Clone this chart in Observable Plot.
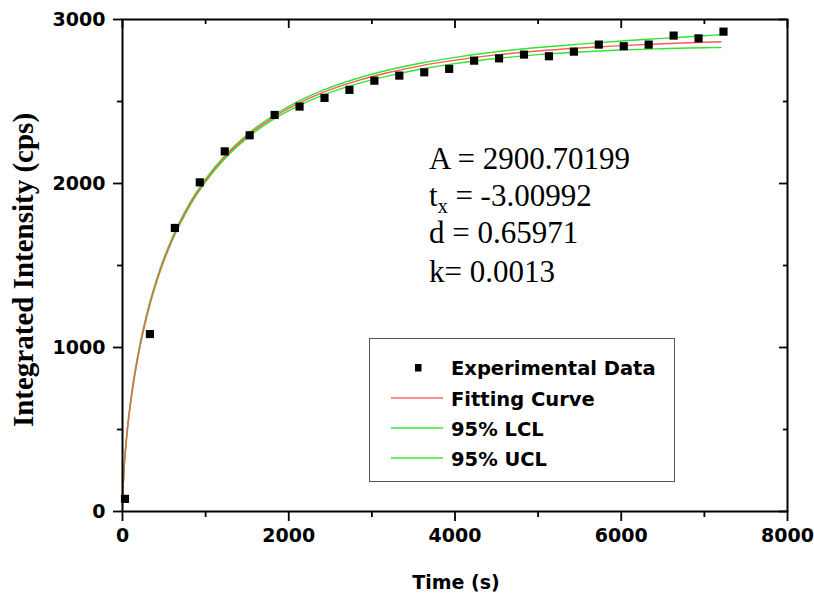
<!DOCTYPE html>
<html>
<head>
<meta charset="utf-8">
<script src="https://cdn.jsdelivr.net/npm/d3@7"></script>
<script src="https://cdn.jsdelivr.net/npm/@observablehq/plot@0.6"></script>
<style>
  html, body { margin: 0; padding: 0; background: white; }
  #chart { position: relative; width: 814px; height: 595px; }
  #legend { position: absolute; left: 369px; top: 338px; width: 306px; height: 144px;
            box-sizing: border-box; border: 1.5px solid #555; background: white; }
</style>
</head>
<body>
<div id="chart"><div id="legend"></div></div>
<script>
// ---- Experimental data (time in s, integrated intensity in cps) ----
const expTime = [30, 330, 630, 930, 1230, 1530, 1830, 2130, 2430, 2730, 3030, 3330, 3630, 3930,
                 4230, 4530, 4830, 5130, 5430, 5730, 6030, 6330, 6630, 6930, 7230];
const expIntensity = [77, 1082, 1729, 2007, 2196, 2294, 2418, 2469, 2522, 2571, 2627, 2658, 2678, 2699,
                      2749, 2763, 2786, 2776, 2804, 2847, 2837, 2847, 2902, 2885, 2926];

// ---- Fitting curve and 95% confidence limits ----
const fitTime = [0, 25, 50, 100, 150, 200, 300, 450, 600, 800, 1000, 1200, 1500, 1800, 2100, 2400,
                 2800, 3200, 3600, 4000, 4500, 5000, 5500, 6000, 6500, 7000, 7200];
const fitValue = [74, 308, 456, 676, 845, 986, 1212, 1468, 1663, 1864, 2019, 2144, 2289, 2399, 2485, 2553,
                  2623, 2677, 2719, 2752, 2784, 2808, 2826, 2841, 2852, 2861, 2864];
const uclValue = [84, 318, 466, 686, 855, 996, 1221, 1477, 1672, 1873, 2028, 2153, 2299, 2410, 2497, 2566,
                  2637, 2692, 2735, 2769, 2803, 2829, 2850, 2869, 2885, 2901, 2907];
const lclValue = [64, 298, 446, 666, 835, 976, 1203, 1459, 1654, 1855, 2010, 2134, 2278, 2386, 2470, 2536,
                  2604, 2656, 2698, 2731, 2762, 2786, 2802, 2814, 2822, 2828, 2829];

// ---- Ticks ----
const xMajorTicks = [0, 2000, 4000, 6000, 8000];
const xMinorTicks = [1000, 3000, 5000, 7000];
const yMajorTicks = [0, 1000, 2000, 3000];
const yMinorTicks = [500, 1500, 2500];

// ---- Texts ----
const xLabel = "Time (s)";
const yLabel = "Integrated Intensity (cps)";
const paramLines = [
  {main: "A = 2900.70199"},
  {main: "t", sub: "x", rest: " = -3.00992"},
  {main: "d = 0.65971"},
  {main: "k= 0.0013"}
];
const legendItems = [
  {label: "Experimental Data", type: "square", color: "black"},
  {label: "Fitting Curve", type: "line", color: "#ff6666"},
  {label: "95% LCL", type: "line", color: "#33ee33"},
  {label: "95% UCL", type: "line", color: "#33ee33"}
];

const RED = "#ff5a5a", GREEN = "#2fe82f";

const W = 814, H = 595, ML = 122, MR = 27, MT = 19, MB = 84;
const plotW = W - ML - MR, plotH = H - MT - MB;

const expData = expTime.map((t, i) => ({t, v: expIntensity[i]}));
const fitData = fitTime.map((t, i) => ({t, v: fitValue[i]}));
const uclData = fitTime.map((t, i) => ({t, v: uclValue[i]}));
const lclData = fitTime.map((t, i) => ({t, v: lclValue[i]}));

const fmt = d3.format("d");
const blank = () => "";

const plot = Plot.plot({
  width: W,
  height: H,
  marginLeft: ML,
  marginRight: MR,
  marginTop: MT,
  marginBottom: MB,
  x: {domain: [0, 8000]},
  y: {domain: [0, 3000]},
  style: {fontFamily: "DejaVu Sans", fontWeight: "bold", fontSize: "19px", color: "black", background: "white", overflow: "visible"},
  marks: [
    Plot.line(lclData, {x: "t", y: "v", stroke: GREEN, strokeWidth: 1.4, curve: "monotone-x"}),
    Plot.line(uclData, {x: "t", y: "v", stroke: GREEN, strokeWidth: 1.4, curve: "monotone-x"}),
    Plot.line(fitData, {x: "t", y: "v", stroke: RED, strokeWidth: 1.4, curve: "monotone-x"}),
    Plot.dot(expData, {x: "t", y: "v", symbol: "square", fill: "black", r: 4.6}),
    // top axis (inward ticks)
    Plot.tickX(xMajorTicks, {x: d => d, stroke: "black", strokeWidth: 1.8, insetBottom: plotH - 9}),
    Plot.tickX(xMinorTicks, {x: d => d, stroke: "black", strokeWidth: 1.8, insetBottom: plotH - 5}),
    // right axis (inward ticks)
    Plot.tickY(yMajorTicks, {y: d => d, stroke: "black", strokeWidth: 1.8, insetLeft: plotW - 8}),
    Plot.tickY(yMinorTicks, {y: d => d, stroke: "black", strokeWidth: 1.8, insetLeft: plotW - 4}),
    Plot.frame({stroke: "black", strokeWidth: 2}),
    // bottom axis
    Plot.axisX({anchor: "bottom", ticks: xMajorTicks, tickSize: 10, tickPadding: 7, tickFormat: fmt, label: null, strokeWidth: 1.8}),
    Plot.axisX({anchor: "bottom", ticks: xMinorTicks, tickSize: 6, tickFormat: blank, label: null, strokeWidth: 1.8}),
    // left axis
    Plot.axisY({anchor: "left", ticks: yMajorTicks, tickSize: 9, tickPadding: 8, tickFormat: fmt, label: null, strokeWidth: 1.8}),
    Plot.axisY({anchor: "left", ticks: yMinorTicks, tickSize: 5, tickFormat: blank, label: null, strokeWidth: 1.8})
  ]
});

document.getElementById("chart").insertBefore(plot, document.getElementById("legend"));
plot.style.position = "absolute";
plot.style.left = "0px";
plot.style.top = "0px";

const svg = d3.select(plot);

// axis titles
svg.append("text")
  .attr("transform", "translate(33,270) rotate(-90)")
  .attr("text-anchor", "middle")
  .attr("font-family", "Liberation Serif")
  .attr("font-weight", "bold")
  .attr("font-size", 29)
  .attr("fill", "black")
  .text(yLabel);

svg.append("text")
  .attr("x", 456).attr("y", 589)
  .attr("text-anchor", "middle")
  .attr("font-family", "DejaVu Sans")
  .attr("font-weight", "bold")
  .attr("font-size", 19)
  .attr("fill", "black")
  .text(xLabel);

// fit parameters
const baselines = [169, 206, 243, 282];
paramLines.forEach((p, i) => {
  const t = svg.append("text")
    .attr("x", 429).attr("y", baselines[i])
    .attr("text-anchor", "start")
    .attr("font-family", "Liberation Serif")
    .attr("font-weight", "normal")
    .attr("font-size", 31)
    .attr("fill", "black");
  t.append("tspan").text(p.main);
  if (p.sub) {
    t.append("tspan").attr("font-size", 20).attr("dy", 7).text(p.sub);
    t.append("tspan").attr("dy", -7).text(p.rest);
  }
});

// legend
const lg = d3.select("#legend").append("svg").attr("width", 303).attr("height", 141)
  .style("position", "absolute").style("left", "0px").style("top", "0px");
const legendBase = [36, 67, 97, 127];
legendItems.forEach((it, i) => {
  const yb = legendBase[i];
  if (it.type === "square") {
    lg.append("rect").attr("x", 45).attr("y", yb - 11).attr("width", 6.5).attr("height", 7.5).attr("fill", it.color);
  } else {
    lg.append("line").attr("x1", 21).attr("x2", 73).attr("y1", yb - 8).attr("y2", yb - 8)
      .attr("stroke", it.color).attr("stroke-width", 1.6);
  }
  lg.append("text").attr("x", 81).attr("y", yb)
    .attr("text-anchor", "start")
    .attr("font-family", "DejaVu Sans").attr("font-weight", "bold").attr("font-size", 19.5)
    .attr("fill", "black").text(it.label);
});
</script>
</body>
</html>
